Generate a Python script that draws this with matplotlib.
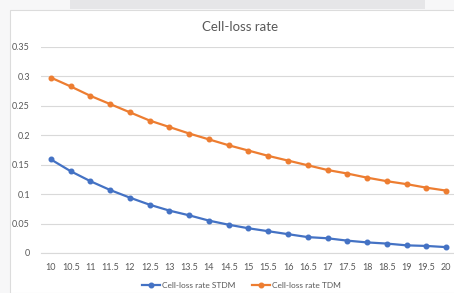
import matplotlib.pyplot as plt
from matplotlib.patches import Rectangle

plt.rcParams['font.family'] = ['Lato', 'DejaVu Sans']

x_labels = ['10', '10.5', '11', '11.5', '12', '12.5', '13', '13.5', '14', '14.5', '15',
            '15.5', '16', '16.5', '17', '17.5', '18', '18.5', '19', '19.5', '20']
stdm = [0.159, 0.139, 0.122, 0.107, 0.094, 0.082, 0.072, 0.064, 0.055, 0.048, 0.042,
        0.037, 0.032, 0.027, 0.025, 0.021, 0.018, 0.016, 0.013, 0.012, 0.010]
tdm = [0.298, 0.283, 0.267, 0.253, 0.239, 0.225, 0.214, 0.203, 0.193, 0.183, 0.174,
       0.165, 0.157, 0.149, 0.141, 0.135, 0.128, 0.122, 0.117, 0.111, 0.106]
y_ticks = [0, 0.05, 0.1, 0.15, 0.2, 0.25, 0.3, 0.35]

W, H = 454, 293
fig = plt.figure(figsize=(W / 100, H / 100), dpi=100)
fig.patch.set_facecolor('#f7f7f8')

# white chart card and the grey bar above it
fig.patches.append(Rectangle((10 / W, 0), 1, 1 - 10 / H, transform=fig.transFigure,
                             facecolor='white', edgecolor='#dcdcdc', linewidth=0.8, zorder=-2))
fig.patches.append(Rectangle((70 / W, 1 - 9 / H), 355 / W, 9 / H, transform=fig.transFigure,
                             facecolor='#e6e6e8', edgecolor='none', zorder=-2))

ax = fig.add_axes([41 / W, 1 - 253 / H, 415 / W, 206 / H])
ax.set_zorder(2)
ax.set_facecolor('none')
idx = list(range(len(x_labels)))
ax.plot(idx, stdm, color='#4472c4', lw=1.6, marker='o', ms=3.3, label='Cell-loss rate STDM')
ax.plot(idx, tdm, color='#ed7d31', lw=1.6, marker='o', ms=3.3, label='Cell-loss rate TDM')

ax.set_xlim(-0.5, len(x_labels) - 0.5)
ax.set_ylim(0, 0.35)
ax.set_xticks(idx)
ax.set_xticklabels(x_labels)
ax.set_yticks(y_ticks)
ax.set_yticklabels(['0', '0.05', '0.1', '0.15', '0.2', '0.25', '0.3', '0.35'])
ax.tick_params(length=0, labelsize=6.5, colors='#595959')
ax.tick_params(axis='y', pad=8)
ax.tick_params(axis='x', pad=7)
ax.grid(axis='y', color='#d9d9d9', lw=0.8)
ax.set_axisbelow(True)
for s in ['top', 'right', 'left']:
    ax.spines[s].set_visible(False)
ax.spines['bottom'].set_color('#d9d9d9')

fig.text(240 / W, 1 - 27 / H, 'Cell-loss rate', ha='center', va='center',
         fontsize=9.5, color='#595959')
fig.legend(loc='center', bbox_to_anchor=(241 / W, 1 - 285 / H), ncol=2, frameon=False,
           fontsize=6, labelcolor='#595959', handlelength=2.2, handletextpad=0.2,
           columnspacing=2.0)

fig.savefig('out.png', dpi=100)
